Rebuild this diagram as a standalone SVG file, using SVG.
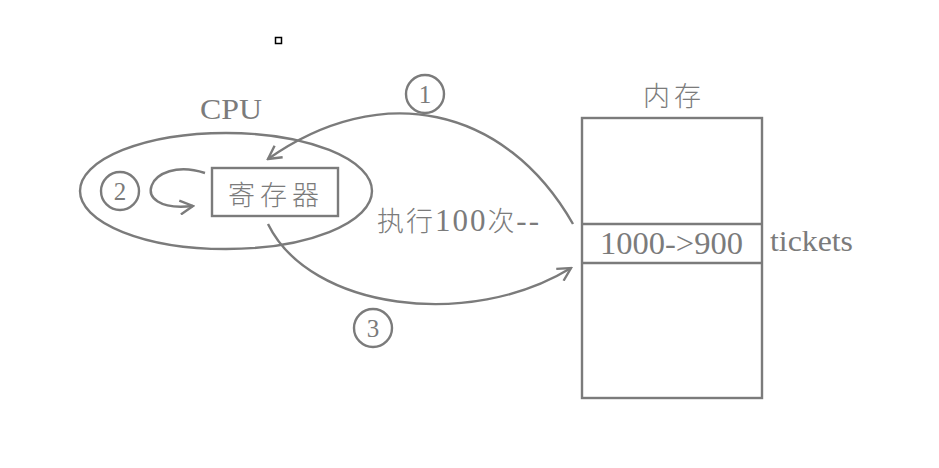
<svg xmlns="http://www.w3.org/2000/svg" width="939" height="468" viewBox="0 0 939 468">
<defs>
<style>
.s{fill:none;stroke:#7b7b7b;stroke-width:2.4}
.r{fill:#7b7b7b;font-family:"Liberation Serif","DejaVu Serif",serif}
.c{fill:#7b7b7b;font-family:"Noto Sans CJK SC",sans-serif;font-weight:300}
</style>
<marker id="ah" viewBox="-14 -8 16 16" markerWidth="16" markerHeight="16" refX="0" refY="0" orient="auto" markerUnits="userSpaceOnUse">
<path d="M-13,-7 L0,0 L-13,7" fill="none" stroke="#7b7b7b" stroke-width="2.4"/>
</marker>
</defs>
<rect width="939" height="468" fill="#fff"/>
<rect x="275.5" y="37.5" width="6" height="6" fill="none" stroke="#000" stroke-width="1.5"/>
<g id="cpu">
<ellipse class="s" cx="226" cy="191" rx="146" ry="58"/>
<text class="r" x="200" y="119" font-size="29" textLength="62" lengthAdjust="spacingAndGlyphs">CPU</text>
</g>
<g id="register">
<rect class="s" x="212" y="168" width="126" height="48"/>
<text class="c" x="276" y="205" font-size="27" text-anchor="middle" letter-spacing="5">寄存器</text>
</g>
<g id="memory">
<rect class="s" x="582" y="118" width="180" height="280"/>
<line class="s" x1="582" y1="224" x2="762" y2="224"/>
<line class="s" x1="582" y1="263" x2="762" y2="263"/>
<text class="c" x="674" y="106" font-size="27" text-anchor="middle" letter-spacing="4">内存</text>
<text class="r" x="600" y="254" font-size="31" textLength="143" lengthAdjust="spacingAndGlyphs">1000-&gt;900</text>
<text class="r" x="770" y="251" font-size="30" textLength="83" lengthAdjust="spacingAndGlyphs">tickets</text>
</g>
<g id="step1">
<circle class="s" cx="425" cy="94" r="19"/>
<text class="r" x="425" y="103" font-size="25" text-anchor="middle">1</text>
</g>
<g id="step2">
<circle class="s" cx="120" cy="191" r="19"/>
<text class="r" x="120" y="200" font-size="25" text-anchor="middle">2</text>
</g>
<g id="step3">
<circle class="s" cx="373" cy="328" r="19"/>
<text class="r" x="373" y="337" font-size="25" text-anchor="middle">3</text>
</g>
<g id="label">
<text x="377" y="231" font-size="27" class="c" textLength="162">执行<tspan class="r" font-size="31">100</tspan>次<tspan class="r" font-size="31">--</tspan></text>
</g>
<g id="connectors">
<path class="s" d="M573,224 C505,105 380,80 268,159" marker-end="url(#ah)"/>
<path class="s" d="M205,173 C148,154 124,214 193,206" marker-end="url(#ah)"/>
<path class="s" d="M268,224 C310,310 470,330 571,268" marker-end="url(#ah)"/>
</g>
</svg>
